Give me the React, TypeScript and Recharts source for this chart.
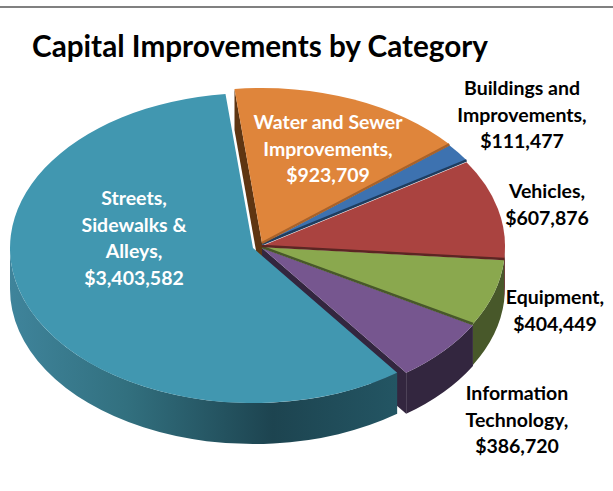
import { PieChart, Pie } from "recharts";

const categories = [
  "Streets, Sidewalks & Alleys",
  "Information Technology",
  "Equipment",
  "Vehicles",
  "Buildings and Improvements",
  "Water and Sewer Improvements",
];
const values = [3403582, 386720, 404449, 607876, 111477, 923709];
const topColors = ["#4197b0", "#76568f", "#8aa84e", "#aa4340", "#3d72b0", "#df853b"];
const sideColors = ["url(#tealSide)", "#33263f", "#48582a", "#5c2523", "#1f3d5f", "#5e3512"];

const data = categories.map((name, i) => ({ name, value: values[i], idx: i }));

// slice pull-out, pie tilt and thickness
const pull = [[-9, 0], [0, 0], [0, -1], [0, -2], [0, -4], [0, -5]];
const TILT = 0.638;
const DEPTH = 41;

function pieceGeometry(props: any) {
  const { cx, cy, outerRadius: r, startAngle, endAngle, payload } = props;
  const i = payload.idx;
  const ox = cx + pull[i][0];
  const oy = cy + pull[i][1];
  const pt = (deg: number, drop = 0) => {
    const t = (deg * Math.PI) / 180;
    return `${ox + r * Math.cos(t)} ${oy - r * TILT * Math.sin(t) + drop}`;
  };
  return { i, ox, oy, r, a: Math.min(startAngle, endAngle), b: Math.max(startAngle, endAngle), pt };
}

// flat cut faces, these sit behind everything else
function CutShape(props: any) {
  const { i, ox, oy, a, b, pt } = pieceGeometry(props);
  if (i !== 1 && i !== 5) return <g />;
  const edge = i === 1 ? a : b;
  return (
    <path
      d={`M${ox} ${oy}L${pt(edge)}L${pt(edge, DEPTH)}L${ox} ${oy + DEPTH}Z`}
      fill={sideColors[i]}
    />
  );
}

function WallShape(props: any) {
  const { i, r, a, b, pt } = pieceGeometry(props);
  const ry = r * TILT;
  const from = Math.max(a, 180);
  const to = Math.min(b, 360);
  if (from >= to) return <g />;
  const large = to - from > 180 ? 1 : 0;
  return (
    <path
      d={`M${pt(from)}A${r} ${ry} 0 ${large} 0 ${pt(to)}L${pt(to, DEPTH)}A${r} ${ry} 0 ${large} 1 ${pt(from, DEPTH)}Z`}
      fill={sideColors[i]}
    />
  );
}

function TopShape(props: any) {
  const { i, ox, oy, r, a, b, pt } = pieceGeometry(props);
  const ry = r * TILT;
  return (
    <g>
      <path
        d={`M${ox} ${oy}L${pt(a)}A${r} ${ry} 0 ${b - a > 180 ? 1 : 0} 0 ${pt(b)}Z`}
        fill={topColors[i]}
      />
      {i > 1 && (
        <path
          d={`M${ox} ${oy}L${pt(a)}`}
          stroke={i === 5 ? "#a8622a" : sideColors[i]}
          strokeWidth={2.5}
          fill="none"
        />
      )}
    </g>
  );
}

const labels = [
  { lines: ["Streets,", "Sidewalks &", "Alleys,", "$3,403,582"], x: 134, y: 185, color: "#fff" },
  { lines: ["Water and Sewer", "Improvements,", "$923,709"], x: 328, y: 109, color: "#fff" },
  { lines: ["Buildings and", "Improvements,", "$111,477"], x: 522, y: 75, color: "#000" },
  { lines: ["Vehicles,", "$607,876"], x: 547, y: 178, color: "#000" },
  { lines: ["Equipment,", "$404,449"], x: 555, y: 284, color: "#000" },
  { lines: ["Information", "Technology,", "$386,720"], x: 517, y: 380, color: "#000" },
];

export default function App() {
  const pieProps = {
    data,
    dataKey: "value",
    cx: 262,
    cy: 248,
    outerRadius: 243,
    startAngle: 96.5,
    endAngle: 456.5,
    stroke: "none",
    isAnimationActive: false,
  };
  return (
    <div
      style={{
        position: "absolute",
        left: 0,
        top: 0,
        width: 613,
        height: 491,
        background: "#fff",
        overflow: "hidden",
        fontFamily: "Lato, sans-serif",
      }}
    >
      <div style={{ position: "absolute", left: 0, right: 0, top: 6, height: 2, background: "#808080" }} />
      <div
        style={{
          position: "absolute",
          left: 32,
          top: 27,
          fontSize: 29.7,
          fontWeight: 700,
          lineHeight: "38px",
          whiteSpace: "nowrap",
          color: "#000",
        }}
      >
        Capital Improvements by Category
      </div>
      <PieChart width={613} height={491} margin={{ top: 0, right: 0, bottom: 0, left: 0 }}>
        <defs>
          <linearGradient id="tealSide" gradientUnits="userSpaceOnUse" x1="10" y1="0" x2="396" y2="0">
            <stop offset="0%" stopColor="#3f849b" />
            <stop offset="30%" stopColor="#32707f" />
            <stop offset="68%" stopColor="#1d4450" />
            <stop offset="100%" stopColor="#235563" />
          </linearGradient>
        </defs>
        <Pie {...pieProps} shape={CutShape} />
        <Pie {...pieProps} shape={WallShape} />
        <Pie {...pieProps} shape={TopShape} />
      </PieChart>
      {labels.map((l) => (
        <div
          key={l.lines[0]}
          style={{
            position: "absolute",
            left: l.x - 100,
            top: l.y,
            width: 200,
            textAlign: "center",
            fontSize: 19.5,
            fontWeight: 700,
            lineHeight: "26.5px",
            color: l.color,
          }}
        >
          {l.lines.map((t) => (
            <div key={t}>{t}</div>
          ))}
        </div>
      ))}
    </div>
  );
}
